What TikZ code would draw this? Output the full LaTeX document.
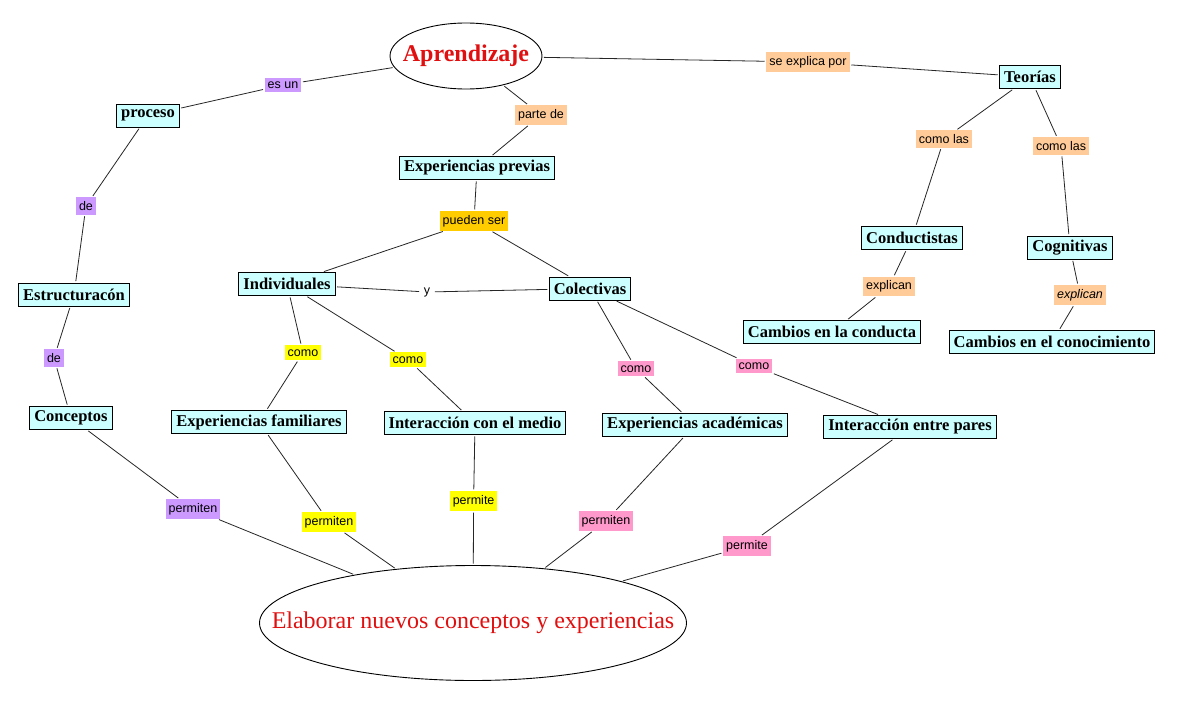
\documentclass[tikz,border=0pt]{standalone}
\usepackage{fontspec}
\setmainfont{Liberation Serif}
\newfontfamily\labfont{Liberation Sans}
\usetikzlibrary{shapes.geometric}
\definecolor{concfill}{RGB}{204,255,255}
\definecolor{lpurple}{RGB}{204,153,255}
\definecolor{lpeach}{RGB}{255,204,153}
\definecolor{lgold}{RGB}{255,204,0}
\definecolor{lyellow}{RGB}{255,255,0}
\definecolor{lpink}{RGB}{255,153,204}
\definecolor{tred}{RGB}{224,16,16}
\begin{document}
\begin{tikzpicture}[x=1pt,y=-1pt,
  concept/.style={draw=black, fill=concfill, line width=0.9pt,
    font=\fontsize{16.5}{18}\selectfont\bfseries, inner xsep=4.5pt, inner ysep=2pt,
    minimum height=23pt, text=black},
  link/.style={font=\labfont\fontsize{12.5}{14}\selectfont, inner xsep=3pt, inner ysep=4pt},
  lpu/.style={link, fill=lpurple},
  lpe/.style={link, fill=lpeach},
  lgo/.style={link, fill=lgold},
  lye/.style={link, fill=lyellow},
  lpi/.style={link, fill=lpink},
  bigell/.style={ellipse, draw=black, line width=0.9pt, inner sep=0pt, text=tred},
  conn/.style={draw=black!85, line width=0.8pt, shorten >=1.5pt, shorten <=1.5pt}
]
\useasboundingbox[fill=white] (0,0) rectangle (1179,702);

% main ellipses
\node[bigell, minimum width=152pt, minimum height=66pt,
  font=\fontsize{24}{26}\selectfont\bfseries] (apr) at (466,56) {\makebox[0pt]{Aprendizaje}};
\node[bigell, minimum width=427pt, minimum height=115pt,
  font=\fontsize{24}{26}\selectfont] (elab) at (473,623) {\makebox[0pt]{Elaborar nuevos conceptos y experiencias}};

% concepts
\node[concept] (proc) at (148,115.5) {proceso};
\node[concept] (estr) at (74,294.5) {Estructuracón};
\node[concept] (concp) at (71,418) {Conceptos\ };
\node[concept] (fam) at (259,422) {Experiencias familiares};
\node[concept] (med) at (475,423) {Interacción con el medio};
\node[concept] (ind) at (287,284) {Individuales};
\node[concept] (col) at (590,288.5) {Colectivas};
\node[concept] (aca) at (695,425) {Experiencias académicas};
\node[concept] (par) at (910,427) {Interacción entre pares};
\node[concept] (teo) at (1030,77) {Teorías};
\node[concept] (cond) at (912,238) {Conductistas};
\node[concept] (cogn) at (1070,247.5) {Cognitivas};
\node[concept] (camc) at (832,332) {Cambios en la conducta};
\node[concept] (camk) at (1052,342) {Cambios en el conocimiento};
\node[concept] (prev) at (477,168) {Experiencias previas};

% linking phrases
\node[lpu] (esun) at (283,85) {es un};
\node[lpe] (parte) at (541,115) {parte de};
\node[lpu] (de1) at (86,206) {de};
\node[lgo] (pued) at (474,221) {pueden ser};
\node[link] (yy) at (427,292) {y};
\node[lpu] (de2) at (54,358) {de};
\node[lye] (como1) at (303,352.7) {como};
\node[lye] (como2) at (408,359.7) {como};
\node[lpu] (perm1) at (193,509) {permiten};
\node[lye] (perm2) at (329,522) {permiten};
\node[lye] (perm3) at (473.6,501) {permite};
\node[lpi] (como3) at (636,368.7) {como};
\node[lpi] (como4) at (754,366) {como};
\node[lpi] (perm4) at (606,521) {permiten};
\node[lpi] (perm5) at (747,546) {permite};
\node[lpe] (sexp) at (808,62) {se explica por};
\node[lpe] (cl1) at (944,139) {como las};
\node[lpe] (cl2) at (1061,146) {como las};
\node[lpe] (exp1) at (889,286.5) {explican};
\node[lpe, font=\labfont\fontsize{12.5}{14}\selectfont\itshape] (exp2) at (1080,295) {explican};

% connectors
\draw[conn] (apr) -- (esun);
\draw[conn] (esun) -- (proc);
\draw[conn] (proc) -- (de1);
\draw[conn] (de1) -- (estr);
\draw[conn] (estr) -- (de2);
\draw[conn] (de2) -- (concp);
\draw[conn] (concp) -- (perm1);
\draw[conn] (perm1) -- (elab);
\draw[conn] (apr) -- (parte);
\draw[conn] (parte) -- (prev);
\draw[conn] (prev) -- (pued);
\draw[conn] (pued) -- (ind);
\draw[conn] (pued) -- (col);
\draw[conn] (ind) -- (yy);
\draw[conn] (yy) -- (col);
\draw[conn] (ind) -- (como1);
\draw[conn] (como1) -- (fam);
\draw[conn] (ind) -- (como2);
\draw[conn] (como2) -- (med);
\draw[conn] (fam) -- (perm2);
\draw[conn] (perm2) -- (elab);
\draw[conn] (med) -- (perm3);
\draw[conn] (perm3) -- (elab);
\draw[conn] (col) -- (como3);
\draw[conn] (como3) -- (aca);
\draw[conn] (col) -- (como4);
\draw[conn] (como4) -- (par);
\draw[conn] (aca) -- (perm4);
\draw[conn] (perm4) -- (elab);
\draw[conn] (par) -- (perm5);
\draw[conn] (perm5) -- (elab);
\draw[conn] (apr) -- (sexp);
\draw[conn] (sexp) -- (teo);
\draw[conn] (teo) -- (cl1);
\draw[conn] (cl1) -- (cond);
\draw[conn] (teo) -- (cl2);
\draw[conn] (cl2) -- (cogn);
\draw[conn] (cond) -- (exp1);
\draw[conn] (exp1) -- (camc);
\draw[conn] (cogn) -- (exp2);
\draw[conn] (exp2) -- (camk);
\end{tikzpicture}
\end{document}
